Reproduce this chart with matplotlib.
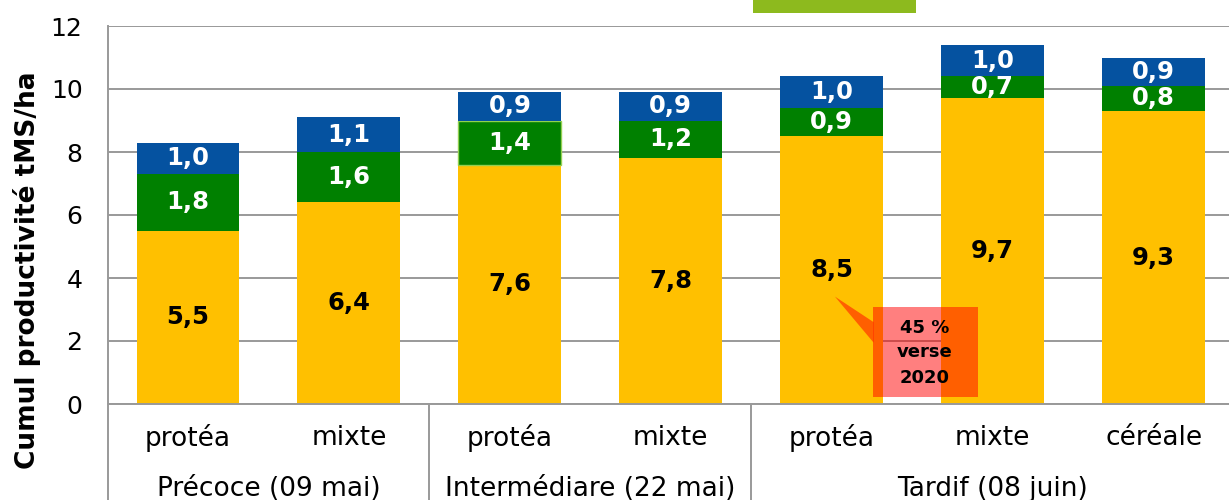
import numpy as np
import matplotlib
matplotlib.use('Agg')
import matplotlib.pyplot as plt
from matplotlib.patches import Rectangle, Polygon

plt.rcParams['font.family'] = 'DejaVu Sans'

# donnees
categories = ['protéa', 'mixte', 'protéa', 'mixte', 'protéa', 'mixte', 'céréale']
groupes = ['Précoce (09 mai)', 'Intermédiare (22 mai)', 'Tardif (08 juin)']
groupe_idx = [[0, 1], [2, 3], [4, 5, 6]]
coupe1 = [5.5, 6.4, 7.6, 7.8, 8.5, 9.7, 9.3]
coupe2 = [1.8, 1.6, 1.4, 1.2, 0.9, 0.7, 0.8]
coupe3 = [1.0, 1.1, 0.9, 0.9, 1.0, 1.0, 0.9]

jaune = '#FFC000'
vert = '#008000'
bleu = '#0552A0'
gris = '#999999'

fig = plt.figure(figsize=(12.29, 5.0), dpi=100)
ax = fig.add_axes([0.0875, 0.192, 0.9166, 0.756])

x = np.arange(len(categories))
w = 0.64
b1 = ax.bar(x, coupe1, w, color=jaune, zorder=2)
b2 = ax.bar(x, coupe2, w, bottom=coupe1, color=vert, zorder=2)
bas3 = np.array(coupe1) + np.array(coupe2)
b3 = ax.bar(x, coupe3, w, bottom=bas3, color=bleu, zorder=2)
b2[2].set_edgecolor('#92D050')
b2[2].set_linewidth(1.0)

def fmt(v):
    return ('%.1f' % v).replace('.', ',')

for i in range(len(x)):
    ax.text(x[i], coupe1[i] / 2, fmt(coupe1[i]), ha='center', va='center',
            fontsize=17.5, fontweight='bold', color='black', zorder=4)
    ax.text(x[i], coupe1[i] + coupe2[i] / 2, fmt(coupe2[i]), ha='center', va='center',
            fontsize=17.5, fontweight='bold', color='white', zorder=4)
    ax.text(x[i], bas3[i] + coupe3[i] / 2, fmt(coupe3[i]), ha='center', va='center',
            fontsize=17.5, fontweight='bold', color='white', zorder=4)

ax.set_xlim(-0.5, len(x) - 0.5)
ax.set_ylim(0, 12)
ax.set_yticks(np.arange(0, 13, 2))
ax.tick_params(axis='y', labelsize=18, length=0, pad=18)
ax.set_xticks([])
ax.grid(axis='y', color=gris, linewidth=1.4, zorder=0)
for s in ['top', 'right']:
    ax.spines[s].set_visible(False)
ax.spines['left'].set_color(gris)
ax.spines['left'].set_linewidth(1.4)
ax.spines['bottom'].set_color(gris)
ax.spines['bottom'].set_linewidth(1.4)

# axe des categories (deux niveaux)
for i in range(len(x)):
    ax.text(x[i], -1.08, categories[i], ha='center', va='center', fontsize=19)
for g, idx in zip(groupes, groupe_idx):
    ax.text(np.mean(idx), -2.7, g, ha='center', va='center', fontsize=19)
for xs in [-0.5, 1.5, 3.5]:
    ax.plot([xs, xs], [0, -4], color=gris, linewidth=1.4, clip_on=False, zorder=1)

fig.text(0.022, 0.46, 'Cumul productivité tMS/ha', rotation=90, ha='center', va='center',
         fontsize=19, fontweight='bold')

# bulle 45 %
ax.add_patch(Polygon([[4.02, 3.41], [4.26, 2.6], [4.26, 1.95]], closed=True,
                     facecolor='#FF5F00', edgecolor='none', zorder=5))
ax.add_patch(Rectangle((4.255, 0.22), 0.652, 2.87, facecolor='red', alpha=0.5,
                       edgecolor='none', zorder=5))
ax.text(4.58, 2.42, '45 %', ha='center', va='center', fontsize=13, fontweight='bold', zorder=6)
ax.text(4.58, 1.66, 'verse', ha='center', va='center', fontsize=13, fontweight='bold', zorder=6)
ax.text(4.58, 0.83, '2020', ha='center', va='center', fontsize=13, fontweight='bold', zorder=6)

# bandeau vert en haut (coupe)
fig.patches.append(Rectangle((0.6127, 0.974), 0.1326, 0.03, transform=fig.transFigure,
                             facecolor='#8DBA1E', edgecolor='none'))

fig.savefig('out.png', dpi=100)
